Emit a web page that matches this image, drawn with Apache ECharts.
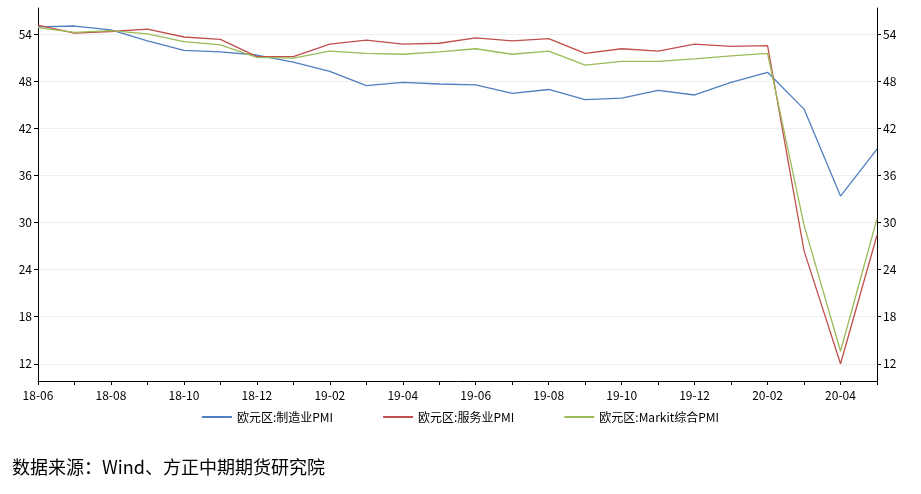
<html>
<head>
<meta charset="utf-8">
<script src="https://cdn.jsdelivr.net/npm/echarts@6/dist/echarts.min.js"></script>
</head>
<body style="margin:0;background:#fff">
<div id="main" style="width:921px;height:494px"></div>
<script>
var months = ['18-06','18-07','18-08','18-09','18-10','18-11','18-12','19-01','19-02','19-03','19-04','19-05',
  '19-06','19-07','19-08','19-09','19-10','19-11','19-12','20-01','20-02','20-03','20-04','20-05'];
var manufacturing = [55.0,55.1,54.6,53.2,52.0,51.8,51.4,50.5,49.3,47.5,47.9,47.7,47.6,46.5,47.0,45.7,45.9,46.9,46.3,47.9,49.2,44.5,33.4,39.4];
var services = [55.2,54.2,54.4,54.7,53.7,53.4,51.2,51.2,52.8,53.3,52.8,52.9,53.6,53.2,53.5,51.6,52.2,51.9,52.8,52.5,52.6,26.4,12.0,28.4];
var composite = [54.9,54.3,54.5,54.1,53.1,52.7,51.1,51.0,51.9,51.6,51.5,51.8,52.2,51.5,51.9,50.1,50.6,50.6,50.9,51.3,51.6,29.7,13.6,30.5];
var yTicks = [12,18,24,30,36,42,48,54];

var font = 'Microsoft YaHei, "Noto Sans CJK SC", sans-serif';
function yAxis(pos) {
  return {
    type: 'value', position: pos, min: 9.8, max: 57.4,
    axisLine: {show: true, lineStyle: {color: '#000'}},
    axisTick: {show: true, inside: false, length: 4, customValues: yTicks, lineStyle: {color: '#000'}},
    axisLabel: {customValues: yTicks, color: '#000', fontSize: 12, fontFamily: font, margin: 6},
    splitLine: {show: pos === 'left', lineStyle: {color: '#eeeeee'}, customValues: yTicks}
  };
}
var chart = echarts.init(document.getElementById('main'));
chart.setOption({
  animation: false,
  grid: {left: 38, right: 44, top: 8, bottom: 113},
  legend: {
    bottom: 66, itemWidth: 30, itemHeight: 2, itemGap: 50, icon: 'rect',
    textStyle: {fontSize: 12, fontFamily: font, color: '#000'},
    data: ['欧元区:制造业PMI','欧元区:服务业PMI','欧元区:Markit综合PMI']
  },
  graphic: [{type: 'text', left: 12, top: 458,
    style: {text: '数据来源：Wind、方正中期期货研究院', fontSize: 18, fontFamily: font, fill: '#000'}}],
  xAxis: {
    type: 'category', data: months, boundaryGap: false,
    axisLine: {lineStyle: {color: '#000'}},
    axisTick: {interval: 0, length: 4, lineStyle: {color: '#000'}},
    axisLabel: {interval: 1, color: '#000', fontSize: 12, fontFamily: font, margin: 8}
  },
  yAxis: [yAxis('left'), yAxis('right')],
  series: [
    {name: '欧元区:制造业PMI', type: 'line', data: manufacturing, symbol: 'none', lineStyle: {width: 1.3, color: '#4f7fc0'}, itemStyle: {color: '#4f7fc0'}},
    {name: '欧元区:服务业PMI', type: 'line', data: services, symbol: 'none', lineStyle: {width: 1.3, color: '#c0504d'}, itemStyle: {color: '#c0504d'}},
    {name: '欧元区:Markit综合PMI', type: 'line', data: composite, symbol: 'none', lineStyle: {width: 1.3, color: '#9bbb59'}, itemStyle: {color: '#9bbb59'}}
  ]
});
</script>
</body>
</html>
